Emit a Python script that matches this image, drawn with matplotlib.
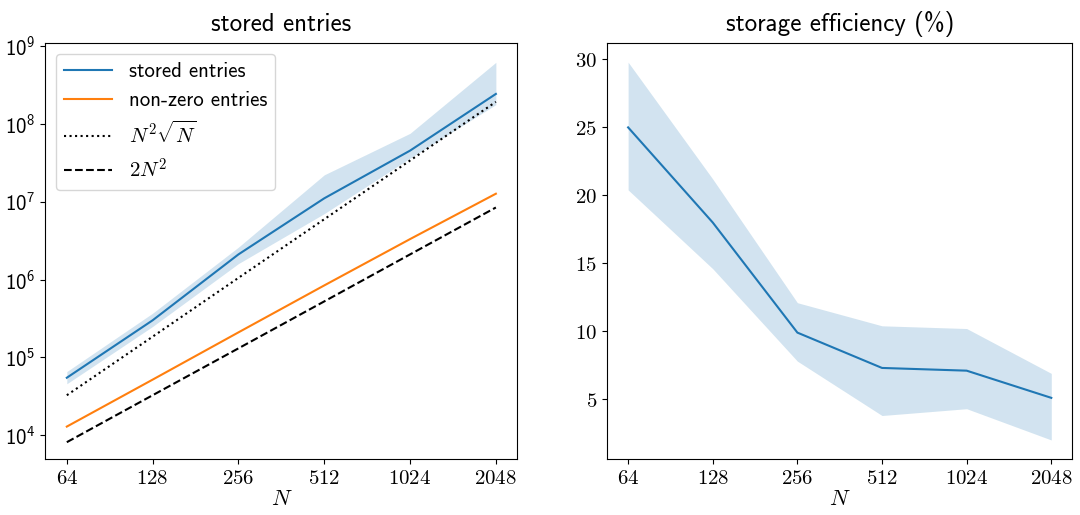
import matplotlib
matplotlib.use('Agg')
import matplotlib.pyplot as plt
from matplotlib.ticker import FixedLocator, FuncFormatter, NullLocator

plt.rcParams['font.family'] = ['cmss10', 'DejaVu Sans']
plt.rcParams['mathtext.fontset'] = 'cm'
plt.rcParams['axes.unicode_minus'] = False

N = [64, 128, 256, 512, 1024, 2048]

# stored entries (mean and band)
stored = [5.5e4, 3.0e5, 2.1e6, 1.1e7, 4.5e7, 2.4e8]
stored_lo = [4.6e4, 2.5e5, 1.6e6, 7.0e6, 3.6e7, 1.75e8]
stored_hi = [6.6e4, 3.7e5, 2.6e6, 2.2e7, 7.5e7, 6.1e8]
nonzero = [1.3e4, 5.2e4, 2.1e5, 8.4e5, 3.3e6, 1.26e7]
ref_sqrt = [3.28e4, 1.85e5, 1.05e6, 5.93e6, 3.36e7, 1.90e8]
ref_2n2 = [8.2e3, 3.28e4, 1.31e5, 5.24e5, 2.10e6, 8.39e6]

# storage efficiency (%)
eff = [25.0, 18.0, 9.9, 7.3, 7.1, 5.1]
eff_lo = [20.4, 14.6, 7.8, 3.8, 4.3, 2.0]
eff_hi = [29.8, 21.2, 12.1, 10.4, 10.2, 6.9]

fig = plt.figure(figsize=(10.8, 5.15), dpi=100)
ax1 = fig.add_axes([0.042, 0.109, 0.437, 0.807])
ax2 = fig.add_axes([0.562, 0.109, 0.431, 0.807])

ax1.fill_between(N, stored_lo, stored_hi, color='C0', alpha=0.2, linewidth=0)
ax1.plot(N, stored, color='C0', label='stored entries')
ax1.plot(N, nonzero, color='C1', label='non-zero entries')
ax1.plot(N, ref_sqrt, 'k:', label=r'$N^2\sqrt{N}$')
ax1.plot(N, ref_2n2, 'k--', label=r'$2N^2$')
ax1.set_yscale('log')
ax1.set_ylim(10**3.7, 10**9.03)
ax1.yaxis.set_minor_locator(NullLocator())
ax1.set_title('stored entries', fontsize=18, pad=9)
ax1.legend(loc='upper left', fontsize=15, handlelength=2.3)

ax2.fill_between(N, eff_lo, eff_hi, color='C0', alpha=0.2, linewidth=0)
ax2.plot(N, eff, color='C0')
ax2.set_title('storage efficiency (%)', fontsize=18, pad=9)
ax2.yaxis.set_major_formatter(FuncFormatter(lambda v, p: '$%g$' % v))

for ax in (ax1, ax2):
    ax.set_xscale('log', base=2)
    ax.xaxis.set_major_locator(FixedLocator(N))
    ax.xaxis.set_minor_locator(NullLocator())
    ax.xaxis.set_major_formatter(FuncFormatter(lambda v, p: '$%d$' % v))
    ax.set_xlabel('$N$', fontsize=16, labelpad=2)
    ax.tick_params(labelsize=15)

fig.savefig('out.png', dpi=100)
